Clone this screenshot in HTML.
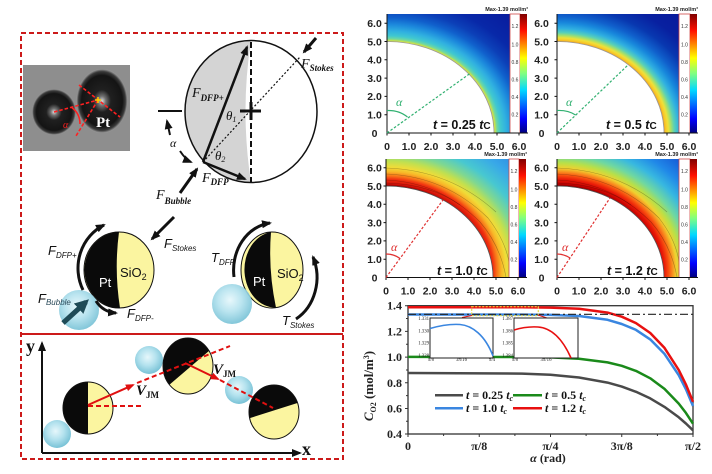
<!DOCTYPE html>
<html><head><meta charset="utf-8"><style>
html,body{margin:0;padding:0;background:#fff;}
svg{display:block;}
.s{font-family:"Liberation Serif",serif;}
.a{font-family:"Liberation Sans",sans-serif;}
</style></head><body>
<svg width="712" height="474" viewBox="0 0 712 474" xmlns="http://www.w3.org/2000/svg">
<defs>
<marker id="ah" markerUnits="userSpaceOnUse" markerWidth="10" markerHeight="8" refX="8" refY="4" orient="auto"><path d="M0,0 L10,4 L0,8 z" fill="#111"/></marker>
<marker id="ahr" markerUnits="userSpaceOnUse" markerWidth="9" markerHeight="7" refX="7" refY="3.5" orient="auto"><path d="M0,0 L9,3.5 L0,7 z" fill="#e01010"/></marker>
<marker id="aht" markerUnits="userSpaceOnUse" markerWidth="14" markerHeight="14" refX="10" refY="7" orient="auto"><path d="M0,0 L14,7 L0,14 z" fill="#1f4b57"/></marker>
<radialGradient id="sph" cx="0.5" cy="0.5" r="0.5">
<stop offset="0" stop-color="#dcdcdc"/><stop offset="0.15" stop-color="#707070"/><stop offset="0.35" stop-color="#202020"/><stop offset="0.8" stop-color="#141414"/><stop offset="0.92" stop-color="#3a3a3a"/><stop offset="1" stop-color="#9a9a9a"/>
</radialGradient>
<radialGradient id="bub" cx="0.45" cy="0.4" r="0.6">
<stop offset="0" stop-color="#e6f7fb"/><stop offset="0.5" stop-color="#b4e2ee"/><stop offset="1" stop-color="#78c2d6"/>
</radialGradient>
<linearGradient id="jet" x1="0" y1="1" x2="0" y2="0">
<stop offset="0" stop-color="#00007f"/><stop offset="0.12" stop-color="#0000ff"/><stop offset="0.36" stop-color="#00d8ff"/><stop offset="0.5" stop-color="#80ff80"/><stop offset="0.63" stop-color="#ffff00"/><stop offset="0.86" stop-color="#ff1000"/><stop offset="1" stop-color="#800000"/>
</linearGradient>
<radialGradient id="g1" gradientUnits="userSpaceOnUse" cx="0" cy="0" r="9" gradientTransform="translate(387,133) scale(21.4,18.3)">
<stop offset="0.5556" stop-color="#e8e040"/><stop offset="0.562" stop-color="#c0e050"/><stop offset="0.572" stop-color="#70d8a0"/><stop offset="0.59" stop-color="#40c8d0"/><stop offset="0.62" stop-color="#30b0e0"/><stop offset="0.66" stop-color="#1c88dc"/><stop offset="0.7" stop-color="#1060cc"/><stop offset="0.75" stop-color="#0c40b8"/><stop offset="0.82" stop-color="#0828a8"/><stop offset="1" stop-color="#08189a"/>
</radialGradient>
<radialGradient id="g2" gradientUnits="userSpaceOnUse" cx="0" cy="0" r="9" gradientTransform="translate(557,133) scale(21.4,18.3)">
<stop offset="0.5556" stop-color="#f0a020"/><stop offset="0.565" stop-color="#f8c828"/><stop offset="0.578" stop-color="#f0e038"/><stop offset="0.592" stop-color="#a8e068"/><stop offset="0.61" stop-color="#58d0b8"/><stop offset="0.635" stop-color="#30b0e0"/><stop offset="0.67" stop-color="#1888dc"/><stop offset="0.71" stop-color="#1060cc"/><stop offset="0.77" stop-color="#0838b0"/><stop offset="0.85" stop-color="#0820a0"/><stop offset="1" stop-color="#08189a"/>
</radialGradient>
<radialGradient id="g3" gradientUnits="userSpaceOnUse" cx="0" cy="-0.64" fx="0" fy="0" r="9" gradientTransform="translate(386,277.5) scale(21.4,18.3)">
<stop offset="0.519" stop-color="#900000"/><stop offset="0.53" stop-color="#d01008"/><stop offset="0.557" stop-color="#f03010"/><stop offset="0.575" stop-color="#f87018"/><stop offset="0.6" stop-color="#f8b828"/><stop offset="0.625" stop-color="#f0dc38"/><stop offset="0.66" stop-color="#c0e050"/><stop offset="0.7" stop-color="#80d890"/><stop offset="0.76" stop-color="#48c8d0"/><stop offset="0.85" stop-color="#38a8e8"/><stop offset="1" stop-color="#2878e0"/>
</radialGradient>
<radialGradient id="g4" gradientUnits="userSpaceOnUse" cx="0" cy="-0.64" fx="0" fy="0" r="9" gradientTransform="translate(557,277.5) scale(21.4,18.3)">
<stop offset="0.519" stop-color="#7a0000"/><stop offset="0.53" stop-color="#c00000"/><stop offset="0.557" stop-color="#e81808"/><stop offset="0.58" stop-color="#f85010"/><stop offset="0.6" stop-color="#f89020"/><stop offset="0.62" stop-color="#f0d030"/><stop offset="0.65" stop-color="#b8e048"/><stop offset="0.69" stop-color="#70d8a0"/><stop offset="0.75" stop-color="#38b8e0"/><stop offset="0.82" stop-color="#2088e8"/><stop offset="0.9" stop-color="#1860d8"/><stop offset="1" stop-color="#1040c0"/>
</radialGradient>
<clipPath id="cpa"><ellipse cx="88" cy="408" rx="25" ry="26"/></clipPath>
<clipPath id="cpb"><ellipse cx="188" cy="366" rx="25" ry="28"/></clipPath>
<clipPath id="cpc"><ellipse cx="274" cy="412" rx="25" ry="27"/></clipPath>
<clipPath id="ch3"><rect x="386" y="159" width="123" height="118.5"/></clipPath>
<clipPath id="ch4"><rect x="557" y="159" width="122" height="118.5"/></clipPath>
</defs>

<!-- ===== LEFT DIAGRAM ===== -->
<rect x="21" y="33" width="322" height="426" fill="none" stroke="#cc1a1a" stroke-width="2" stroke-dasharray="5,3"/>
<line x1="21" y1="334" x2="343" y2="334" stroke="#cc1a1a" stroke-width="2"/>

<!-- microscope image -->
<rect x="23" y="65" width="107" height="86" fill="#8e8e8e"/>
<ellipse cx="54" cy="112" rx="22" ry="23" fill="url(#sph)"/>
<ellipse cx="102" cy="101" rx="25.5" ry="32" fill="url(#sph)"/>
<g stroke="#ff2020" stroke-width="1.6" stroke-dasharray="3.5,2" fill="none">
<line x1="54" y1="112" x2="98" y2="100"/>
<line x1="79" y1="85" x2="120" y2="117"/>
<line x1="98" y1="100" x2="76" y2="136"/>
</g>
<path d="M71,107 Q80,113 80,124" stroke="#ff2020" stroke-width="1.6" fill="none"/>
<text class="s" x="63" y="128" font-size="10" font-style="italic" fill="#ff2020">α</text>
<path d="M95,100 H101 M98,97 V103" stroke="#ffd000" stroke-width="1.5"/>
<text class="s" x="96" y="127" font-size="15" font-weight="bold" fill="#fff">Pt</text>

<!-- big force circle -->
<path d="M251,40.5 A66,71 0 0,0 251,182.5 Q240,111 251,40.5 Z" fill="#d4d4d4"/>
<ellipse cx="251" cy="111.5" rx="66" ry="71" fill="none" stroke="#111" stroke-width="1.5"/>
<line x1="251" y1="42" x2="251" y2="182" stroke="#111" stroke-width="2" stroke-dasharray="6,3"/>
<path d="M240,111 H261 M251,102 V120" stroke="#111" stroke-width="3"/>
<line x1="203" y1="162" x2="300" y2="57" stroke="#111" stroke-width="1.2" stroke-dasharray="2,2"/>
<line x1="203" y1="162" x2="247" y2="47" stroke="#111" stroke-width="2.5" marker-end="url(#ah)"/>
<line x1="203" y1="162" x2="245" y2="179" stroke="#111" stroke-width="2.5" marker-end="url(#ah)"/>
<line x1="316" y1="38" x2="304" y2="52" stroke="#111" stroke-width="3" marker-end="url(#ah)"/>
<line x1="180" y1="193" x2="197" y2="169" stroke="#111" stroke-width="3" marker-end="url(#ah)"/>
<line x1="158" y1="111" x2="182" y2="111" stroke="#111" stroke-width="2"/>
<path d="M170,135 L167,121" stroke="#111" stroke-width="2" fill="none" marker-end="url(#ah)"/>
<path d="M180,151 Q186,160 191,162" stroke="#111" stroke-width="2" fill="none" marker-end="url(#ah)"/>
<g class="s" font-style="italic" fill="#111">
<text x="301" y="68" font-size="14">F<tspan font-size="9" dy="3" font-weight="bold">Stokes</tspan></text>
<text x="192" y="97" font-size="14">F<tspan font-size="9" dy="4" font-weight="bold">DFP+</tspan></text>
<text x="226" y="120" font-size="13">θ<tspan font-size="8" dy="2">1</tspan></text>
<text x="215" y="160" font-size="13">θ<tspan font-size="8" dy="2">2</tspan></text>
<text x="202" y="182" font-size="14">F<tspan font-size="9" dy="3" font-weight="bold">DFP</tspan></text>
<text x="156" y="199" font-size="14">F<tspan font-size="9" dy="5" font-weight="bold">Bubble</tspan></text>
<text x="170" y="147" font-size="12">α</text>
</g>

<!-- Janus particle 1 -->
<ellipse cx="119" cy="270" rx="35" ry="38" fill="#fbf5a0" stroke="#111" stroke-width="1"/>
<path d="M119,232 A35,38 0 0,0 120,308 Q114,270 119,232 Z" fill="#0a0a0a"/>
<text class="a" x="99" y="287" font-size="13" fill="#fff">Pt</text>
<text class="a" x="120" y="277" font-size="13" fill="#111">SiO<tspan font-size="9" dy="3">2</tspan></text>
<circle cx="79" cy="310" r="20" fill="url(#bub)" opacity="0.92"/>
<path d="M83,290 A46,48 0 0,1 104,225" stroke="#111" stroke-width="3" fill="none" marker-end="url(#ah)"/>
<path d="M96,301 Q103,312 116,313" stroke="#111" stroke-width="3" fill="none" marker-end="url(#ah)"/>
<line x1="174" y1="217" x2="152" y2="239" stroke="#111" stroke-width="3" marker-end="url(#ah)"/>
<line x1="63" y1="323" x2="86" y2="302" stroke="#1f4b57" stroke-width="5" marker-end="url(#aht)"/>

<!-- Janus particle 2 -->
<ellipse cx="272" cy="270" rx="31" ry="38" fill="#fbf5a0" stroke="#111" stroke-width="1"/>
<path d="M271,232 A31,38 0 0,0 276,307.6 Q268,270 271,232 Z" fill="#0a0a0a"/>
<text class="a" x="253" y="286" font-size="13" fill="#fff">Pt</text>
<text class="a" x="277" y="278" font-size="13" fill="#111">SiO<tspan font-size="9" dy="3">2</tspan></text>
<circle cx="232" cy="304" r="20" fill="url(#bub)" opacity="0.92"/>
<path d="M234,277 A42,48 0 0,1 270,223" stroke="#111" stroke-width="3" fill="none" marker-end="url(#ah)"/>
<path d="M296,319 A42,48 0 0,0 313,257" stroke="#111" stroke-width="3" fill="none" marker-end="url(#ah)"/>

<g class="a" font-style="italic" fill="#111">
<text x="48" y="255" font-size="13">F<tspan font-size="8" dy="3">DFP+</tspan></text>
<text x="164" y="248" font-size="13">F<tspan font-size="8" dy="3">Stokes</tspan></text>
<text x="38" y="303" font-size="13">F<tspan font-size="8" dy="2" fill="#2a4a5a">Bubble</tspan></text>
<text x="127" y="318" font-size="13">F<tspan font-size="8" dy="3">DFP-</tspan></text>
<text x="211" y="262" font-size="13">T<tspan font-size="8" dy="3">DFP</tspan></text>
<text x="282" y="325" font-size="13">T<tspan font-size="8" dy="3">Stokes</tspan></text>
</g>

<!-- lower trajectory box -->
<line x1="42" y1="453" x2="42" y2="343" stroke="#111" stroke-width="2" marker-end="url(#ah)"/>
<line x1="42" y1="453" x2="300" y2="453" stroke="#111" stroke-width="2" marker-end="url(#ah)"/>
<text class="s" x="26" y="352" font-size="18" font-weight="bold" fill="#111">y</text>
<text class="s" x="302" y="455" font-size="18" font-weight="bold" fill="#111">x</text>

<circle cx="57" cy="434" r="14" fill="url(#bub)"/>
<ellipse cx="88" cy="408" rx="25" ry="26" fill="#fbf5a0"/>
<rect x="60" y="380" width="28" height="60" fill="#0a0a0a" clip-path="url(#cpa)"/>
<ellipse cx="88" cy="408" rx="25" ry="26" fill="none" stroke="#111" stroke-width="1"/>

<circle cx="149" cy="360" r="14" fill="url(#bub)"/>
<ellipse cx="188" cy="366" rx="25" ry="28" fill="#fbf5a0"/>
<polygon points="230,333 148,403 140,403 140,320 230,320" fill="#0a0a0a" clip-path="url(#cpb)"/>
<ellipse cx="188" cy="366" rx="25" ry="28" fill="none" stroke="#111" stroke-width="1"/>

<circle cx="239" cy="390" r="14" fill="url(#bub)"/>
<ellipse cx="274" cy="412" rx="25" ry="27" fill="#fbf5a0"/>
<polygon points="240,421.2 310,399 310,380 240,380" fill="#0a0a0a" clip-path="url(#cpc)"/>
<ellipse cx="274" cy="412" rx="25" ry="27" fill="none" stroke="#111" stroke-width="1"/>

<g stroke="#e01010" stroke-width="2" fill="none">
<line x1="88" y1="405" x2="133" y2="385" marker-end="url(#ahr)"/>
<line x1="137" y1="383" x2="230" y2="346" stroke-dasharray="5,3"/>
<line x1="88" y1="406" x2="143" y2="406" stroke-dasharray="5,3"/>
<line x1="185" y1="363" x2="218" y2="379" marker-end="url(#ahr)"/>
<line x1="220" y1="380" x2="273" y2="408" stroke-dasharray="5,3"/>
</g>
<g class="s" font-weight="bold" font-style="italic" fill="#111">
<text x="136" y="395" font-size="15">V<tspan font-size="9" dy="3" font-style="normal">JM</tspan></text>
<text x="213" y="374" font-size="15">V<tspan font-size="9" dy="3" font-style="normal">JM</tspan></text>
</g>

<!-- ===== HEATMAPS ===== -->
<!-- Panel 1 -->
<rect x="387" y="14" width="123" height="119" fill="url(#g1)"/>
<path d="M387,133 L387,41.5 A107,91.5 0 0,1 494,133 Z" fill="#fff" stroke="#999" stroke-width="0.8"/>
<rect x="510" y="14" width="10" height="119" fill="#fff" stroke="#d04848" stroke-width="0.8"/>
<rect x="520" y="14" width="7" height="119" fill="url(#jet)"/>
<!-- Panel 2 -->
<rect x="557" y="14" width="122" height="119" fill="url(#g2)"/>
<path d="M557,133 L557,41.5 A107,91.5 0 0,1 664,133 Z" fill="#fff" stroke="#999" stroke-width="0.8"/>
<rect x="679" y="14" width="11" height="119" fill="#fff" stroke="#d04848" stroke-width="0.8"/>
<rect x="690" y="14" width="7" height="119" fill="url(#jet)"/>
<!-- Panel 3 -->
<rect x="386" y="159" width="123" height="118.5" fill="url(#g3)"/>
<g clip-path="url(#ch3)" stroke="#000" stroke-opacity="0.3" stroke-width="0.6" fill="none">
<path d="M386,180 Q440,182 480,222 Q500,245 506,277"/>
<path d="M386,174 Q445,176 488,218 Q505,240 509,262"/>
<path d="M386,168 Q450,170 496,212"/>
<path d="M386,183 Q430,184 460,205"/>
</g>
<path d="M386,277.5 L386,186 A107,91.5 0 0,1 493,277.5 Z" fill="#fff" stroke="#555" stroke-width="0.8"/>
<rect x="509" y="159" width="10" height="118.5" fill="#fff" stroke="#d04848" stroke-width="0.8"/>
<rect x="519" y="159" width="7" height="118.5" fill="url(#jet)"/>
<!-- Panel 4 -->
<rect x="557" y="159" width="122" height="118.5" fill="url(#g4)"/>
<g clip-path="url(#ch4)" stroke="#000" stroke-opacity="0.3" stroke-width="0.6" fill="none">
<path d="M557,180 Q611,182 651,222 Q671,245 677,277"/>
<path d="M557,174 Q616,176 659,218 Q676,240 679,262"/>
<path d="M557,168 Q621,170 667,212"/>
<path d="M557,183 Q601,184 631,205"/>
</g>
<path d="M557,277.5 L557,186 A107,91.5 0 0,1 664,277.5 Z" fill="#fff" stroke="#555" stroke-width="0.8"/>
<rect x="679" y="159" width="11" height="118.5" fill="#fff" stroke="#d04848" stroke-width="0.8"/>
<rect x="690" y="159" width="7" height="118.5" fill="url(#jet)"/>

<!-- axes -->
<g stroke="#111" stroke-width="1" fill="none">
<path d="M387,14 V133 H528"/>
<path d="M557,14 V133 H698"/>
<path d="M386,159 V277.5 H527"/>
<path d="M557,159 V277.5 H698"/>
<path d="M387,133v2.5M409,133v2.5M431,133v2.5M453,133v2.5M475,133v2.5M497,133v2.5M519,133v2.5
M557,133v2.5M579,133v2.5M601,133v2.5M623,133v2.5M645,133v2.5M667,133v2.5M689,133v2.5
M386,277.5v2.5M408,277.5v2.5M430,277.5v2.5M452,277.5v2.5M474,277.5v2.5M496,277.5v2.5M518,277.5v2.5
M557,277.5v2.5M579,277.5v2.5M601,277.5v2.5M623,277.5v2.5M645,277.5v2.5M667,277.5v2.5M689,277.5v2.5
M384.5,114.7h2.5M384.5,96.4h2.5M384.5,78.1h2.5M384.5,59.8h2.5M384.5,41.5h2.5M384.5,23.2h2.5
M554.5,114.7h2.5M554.5,96.4h2.5M554.5,78.1h2.5M554.5,59.8h2.5M554.5,41.5h2.5M554.5,23.2h2.5
M383.5,259.2h2.5M383.5,240.9h2.5M383.5,222.6h2.5M383.5,204.3h2.5M383.5,186h2.5M383.5,167.7h2.5
M554.5,259.2h2.5M554.5,240.9h2.5M554.5,222.6h2.5M554.5,204.3h2.5M554.5,186h2.5M554.5,167.7h2.5"/>
</g>

<!-- alpha lines -->
<g stroke="#30b070" stroke-width="1.2" fill="none">
<line x1="387" y1="133" x2="470" y2="73.5" stroke-dasharray="2.5,1.8"/>
<path d="M387,110.5 Q399,110 407.5,117"/>
<line x1="557" y1="133" x2="628" y2="65" stroke-dasharray="2.5,1.8"/>
<path d="M557,110.5 Q568,110 575.5,115"/>
</g>
<g stroke="#e03030" stroke-width="1.2" fill="none">
<line x1="386" y1="277.5" x2="443" y2="200" stroke-dasharray="2.5,1.8"/>
<path d="M386,254 Q394,254 400,258.5"/>
<line x1="557" y1="277.5" x2="610" y2="198" stroke-dasharray="2.5,1.8"/>
<path d="M557,254 Q564,254 570,258"/>
</g>
<g class="s" font-style="italic" font-size="12">
<text x="396" y="106" fill="#30b070">α</text>
<text x="566" y="106" fill="#30b070">α</text>
<text x="391" y="251" fill="#e03030">α</text>
<text x="562" y="251" fill="#e03030">α</text>
</g>

<!-- heatmap labels -->
<g class="a" font-weight="bold" font-size="12.5" fill="#111">
<text x="433" y="129"><tspan font-style="italic">t</tspan> = 0.25 <tspan font-style="italic">t</tspan><tspan font-size="10">C</tspan></text>
<text x="606" y="129"><tspan font-style="italic">t</tspan> = 0.5 <tspan font-style="italic">t</tspan><tspan font-size="10">C</tspan></text>
<text x="437" y="275"><tspan font-style="italic">t</tspan> = 1.0 <tspan font-style="italic">t</tspan><tspan font-size="10">C</tspan></text>
<text x="607" y="275"><tspan font-style="italic">t</tspan> = 1.2 <tspan font-style="italic">t</tspan><tspan font-size="10">C</tspan></text>
</g>
<g class="a" font-weight="bold" font-size="5.5" fill="#222" text-anchor="end">
<text x="528" y="11">Max-1.39 mol/m³</text>
<text x="698" y="11">Max-1.39 mol/m³</text>
<text x="527" y="156">Max-1.39 mol/m³</text>
<text x="698" y="156">Max-1.39 mol/m³</text>
</g>
<g class="a" font-size="5" fill="#333" text-anchor="middle">
<text x="515" y="28">1.2</text><text x="515" y="46.5">1.0</text><text x="515" y="64">0.8</text><text x="515" y="81.5">0.6</text><text x="515" y="99">0.4</text><text x="515" y="116.5">0.2</text>
<text x="684.5" y="28">1.2</text><text x="684.5" y="46.5">1.0</text><text x="684.5" y="64">0.8</text><text x="684.5" y="81.5">0.6</text><text x="684.5" y="99">0.4</text><text x="684.5" y="116.5">0.2</text>
<text x="514" y="173">1.2</text><text x="514" y="191.5">1.0</text><text x="514" y="209">0.8</text><text x="514" y="226.5">0.6</text><text x="514" y="244">0.4</text><text x="514" y="261.5">0.2</text>
<text x="684.5" y="173">1.2</text><text x="684.5" y="191.5">1.0</text><text x="684.5" y="209">0.8</text><text x="684.5" y="226.5">0.6</text><text x="684.5" y="244">0.4</text><text x="684.5" y="261.5">0.2</text>
</g>
<g class="a" font-weight="bold" font-size="10.5" fill="#222" text-anchor="middle">
<text x="374.5" y="136.8">0</text><text x="374.5" y="118.5">1.0</text><text x="374.5" y="100.2">2.0</text><text x="374.5" y="81.9">3.0</text><text x="374.5" y="63.6">4.0</text><text x="374.5" y="45.3">5.0</text><text x="374.5" y="27">6.0</text>
<text x="541.5" y="136.8">0</text><text x="541.5" y="118.5">1.0</text><text x="541.5" y="100.2">2.0</text><text x="541.5" y="81.9">3.0</text><text x="541.5" y="63.6">4.0</text><text x="541.5" y="45.3">5.0</text><text x="541.5" y="27">6.0</text>
<text x="374.5" y="281.3">0</text><text x="374.5" y="263">1.0</text><text x="374.5" y="244.7">2.0</text><text x="374.5" y="226.4">3.0</text><text x="374.5" y="208.1">4.0</text><text x="374.5" y="189.8">5.0</text><text x="374.5" y="171.5">6.0</text>
<text x="541.5" y="281.3">0</text><text x="541.5" y="263">1.0</text><text x="541.5" y="244.7">2.0</text><text x="541.5" y="226.4">3.0</text><text x="541.5" y="208.1">4.0</text><text x="541.5" y="189.8">5.0</text><text x="541.5" y="171.5">6.0</text>
<text x="387" y="150">0</text><text x="409" y="150">1.0</text><text x="431" y="150">2.0</text><text x="453" y="150">3.0</text><text x="475" y="150">4.0</text><text x="497" y="150">5.0</text><text x="519" y="150">6.0</text>
<text x="557" y="150">0</text><text x="579" y="150">1.0</text><text x="601" y="150">2.0</text><text x="623" y="150">3.0</text><text x="645" y="150">4.0</text><text x="667" y="150">5.0</text><text x="689" y="150">6.0</text>
<text x="386" y="294.5">0</text><text x="408" y="294.5">1.0</text><text x="430" y="294.5">2.0</text><text x="452" y="294.5">3.0</text><text x="474" y="294.5">4.0</text><text x="496" y="294.5">5.0</text><text x="518" y="294.5">6.0</text>
<text x="557" y="294.5">0</text><text x="579" y="294.5">1.0</text><text x="601" y="294.5">2.0</text><text x="623" y="294.5">3.0</text><text x="645" y="294.5">4.0</text><text x="667" y="294.5">5.0</text><text x="689" y="294.5">6.0</text>
</g>

<!-- ===== LINE CHART ===== -->
<rect x="408" y="305.7" width="285" height="128.3" fill="#fff" stroke="#333" stroke-width="1.3"/>
<g stroke="#333" stroke-width="1" fill="none">
<path d="M408,434v3M479.25,434v3M550.5,434v3M621.75,434v3M693,434v3M443.6,434v2M514.9,434v2M586.1,434v2M657.4,434v2
M405,305.7h3M405,331.4h3M405,357.1h3M405,382.8h3M405,408.5h3M405,434h3M406,318.5h2M406,344.2h2M406,370h2M406,395.6h2M406,421.2h2"/>
</g>
<g fill="none" stroke-width="2.5" stroke-linejoin="round">
<polyline stroke="#4a4a4a" points="408,373 522,373.6 550.5,374.8 579,377.5 607.5,382.6 621.75,386.6 636,391.8 650.25,398.4 664.5,406.9 678.75,417.3 685.9,423.5 693,430.3"/>
<polyline stroke="#1a8a1a" points="408,356.9 522,357 550.5,357.4 579,358.8 607.5,362.4 621.75,365.8 636,370.9 650.25,378.3 664.5,388.9 678.75,403.6 685.9,412.9 693,423.7"/>
<polyline stroke="#3a86e0" points="408,314.5 522,314.6 550.5,314.9 579,316 607.5,319.8 621.75,324 636,329.9 650.25,339.4 664.5,353.9 678.75,375.2 685.9,389.2 693,406"/>
<polyline stroke="#e81010" points="408,307.2 522,307.3 550.5,307.6 579,308.8 607.5,312.6 621.75,316.7 636,323.1 650.25,333 664.5,347.9 678.75,370 685.9,384.5 693,401.8"/>
</g>
<line x1="408" y1="314.3" x2="693" y2="314.3" stroke="#222" stroke-width="1.2" stroke-dasharray="8,3,2,3"/>
<rect x="471.7" y="306.7" width="66.6" height="9" fill="none" stroke="#e8d840" stroke-width="1.2" stroke-dasharray="2,1.5"/>
<line x1="462" y1="317.5" x2="472" y2="315.5" stroke="#e01010" stroke-width="1"/>
<line x1="538" y1="315" x2="547" y2="318" stroke="#e01010" stroke-width="1"/>

<!-- insets -->
<rect x="430" y="318" width="63" height="40" fill="#fff" stroke="#222" stroke-width="1"/>
<path d="M430,328.5 C442,325 452,324 460,324.5 C472,325.5 485,335 493,356" stroke="#3a86e0" stroke-width="1.6" fill="none"/>
<rect x="514" y="318" width="64" height="40" fill="#fff" stroke="#222" stroke-width="1"/>
<path d="M514,330 C522,327.5 530,326.5 538,327 C552,328 563,340 571,358" stroke="#e81010" stroke-width="1.6" fill="none"/>
<g class="s" font-size="4.8" fill="#222">
<g text-anchor="end">
<text x="429" y="320">1.331</text><text x="429" y="332.3">1.330</text><text x="429" y="344.6">1.329</text><text x="429" y="357">1.328</text>
<text x="513" y="320">1.387</text><text x="513" y="332.3">1.386</text><text x="513" y="344.6">1.385</text><text x="513" y="357">1.384</text>
</g>
<g text-anchor="middle">
<text x="431" y="361">π/8</text><text x="461.5" y="361">3π/16</text><text x="492" y="361">π/4</text>
<text x="515" y="361">π/8</text><text x="546" y="361">3π/16</text>
</g>
</g>

<!-- legend -->
<g stroke-width="2.5">
<line x1="435" y1="395.3" x2="463" y2="395.3" stroke="#4a4a4a"/>
<line x1="513" y1="395.3" x2="542" y2="395.3" stroke="#1a8a1a"/>
<line x1="435" y1="408.3" x2="463" y2="408.3" stroke="#3a86e0"/>
<line x1="513" y1="408.3" x2="542" y2="408.3" stroke="#e81010"/>
</g>
<g class="s" font-weight="bold" font-size="12" fill="#111">
<text x="466" y="399"><tspan font-style="italic">t</tspan> = 0.25 <tspan font-style="italic">t</tspan><tspan font-size="8" dy="2" font-style="italic">c</tspan></text>
<text x="545" y="399"><tspan font-style="italic">t</tspan> = 0.5 <tspan font-style="italic">t</tspan><tspan font-size="8" dy="2" font-style="italic">c</tspan></text>
<text x="466" y="412"><tspan font-style="italic">t</tspan> = 1.0 <tspan font-style="italic">t</tspan><tspan font-size="8" dy="2" font-style="italic">c</tspan></text>
<text x="545" y="412"><tspan font-style="italic">t</tspan> = 1.2 <tspan font-style="italic">t</tspan><tspan font-size="8" dy="2" font-style="italic">c</tspan></text>
</g>

<!-- axis labels -->
<g class="s" font-weight="bold" font-size="12" fill="#222">
<g text-anchor="end">
<text x="402" y="309.7">1.4</text><text x="402" y="335.4">1.2</text><text x="402" y="361.1">1.0</text><text x="402" y="386.8">0.8</text><text x="402" y="412.5">0.6</text><text x="402" y="438">0.4</text>
</g>
<g text-anchor="middle">
<text x="408" y="450">0</text><text x="479.25" y="450">π/8</text><text x="550.5" y="450">π/4</text><text x="621.75" y="450">3π/8</text><text x="693" y="450">π/2</text>
<text x="548" y="462"><tspan font-style="italic">α</tspan> (rad)</text>
</g>
</g>
<text class="s" transform="translate(373,386) rotate(-90)" text-anchor="middle" font-weight="bold" font-size="13" fill="#222"><tspan font-style="italic">C</tspan><tspan font-size="8" dy="3">O2</tspan><tspan dy="-3"> (mol/m</tspan><tspan font-size="8" dy="-4">3</tspan><tspan dy="4">)</tspan></text>
</svg>
</body></html>
